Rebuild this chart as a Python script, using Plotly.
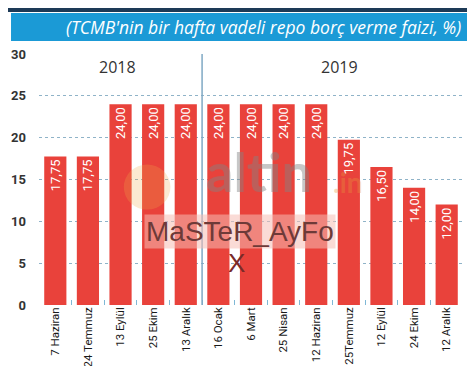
import plotly.graph_objects as go

categories = ["7 Haziran", "24 Temmuz", "13 Eylül", "25 Ekim", "13 Aralık",
              "16 Ocak", "6 Mart", "25 Nisan", "12 Haziran", "25Temmuz",
              "12 Eylül", "24 Ekim", "12 Aralık"]
rates = [17.75, 17.75, 24.00, 24.00, 24.00, 24.00, 24.00, 24.00, 24.00,
         19.75, 16.50, 14.00, 12.00]
years = ["2018", "2019"]
y_ticks = [0, 5, 10, 15, 20, 25, 30]
title_text = "(TCMB'nin bir hafta vadeli repo borç verme faizi, %)"

NARROW = "Roboto, Liberation Sans Narrow, sans-serif"

fig = go.Figure()
fig.add_trace(go.Bar(
    x=categories, y=rates,
    marker=dict(color="#e9423b", line=dict(width=0)),
    texttemplate="%{y:.2f}",
    textposition="inside",
    insidetextanchor="end",
    textangle=-90,
    textfont=dict(color="white", size=13, family=NARROW),
    hoverinfo="skip",
))

shapes = [
    dict(type="rect", xref="paper", yref="paper", x0=-0.075, x1=1.047, y0=1.167, y1=1.19,
         fillcolor="#1d3a57", line=dict(width=0), layer="above"),
    dict(type="rect", xref="paper", yref="paper", x0=-0.066, x1=1.024, y0=1.052, y1=1.163,
         fillcolor="#1b9ad6", line=dict(width=0), layer="above"),
    dict(type="rect", xref="paper", yref="paper", x0=-0.073, x1=1.031, y0=-0.262, y1=-0.254,
         fillcolor="#36b3d8", line=dict(width=0), layer="above"),
    dict(type="line", xref="x", yref="y", x0=4.5, x1=4.5, y0=0, y1=30,
         line=dict(color="#7fa9c4", width=1.5), layer="above"),
    dict(type="circle", xref="paper", yref="paper", x0=0.2, x1=0.31, y0=0.38, y1=0.56,
         fillcolor="rgba(240,170,70,0.25)", line=dict(width=0), layer="above"),
]

annotations = [
    dict(text="<i>" + title_text + "</i>", xref="paper", yref="paper", x=1.0, y=1.108,
         xanchor="right", yanchor="middle", showarrow=False,
         font=dict(color="white", size=17.5, family="Open Sans, Noto Sans, sans-serif")),
    dict(text=years[0], xref="x", yref="y", x=1.9, y=28.5, showarrow=False,
         font=dict(color="#333333", size=16, family="Open Sans, Noto Sans, sans-serif")),
    dict(text=years[1], xref="x", yref="y", x=8.7, y=28.5, showarrow=False,
         font=dict(color="#333333", size=16, family="Open Sans, Noto Sans, sans-serif")),
    dict(text="<b>altin</b>", xref="paper", yref="paper", x=0.52, y=0.53, showarrow=False,
         font=dict(color="rgba(130,130,130,0.45)", size=54, family="Lato, sans-serif")),
    dict(text="<b>.in</b>", xref="paper", yref="paper", x=0.77, y=0.49, showarrow=False,
         font=dict(color="rgba(230,150,60,0.35)", size=28, family="Lato, sans-serif")),
    dict(text="MaSTeR_AyFo", xref="paper", yref="paper", x=0.475, y=0.225, showarrow=False,
         bgcolor="rgba(245,190,180,0.55)", borderpad=1,
         font=dict(color="#6e3a38", size=28, family="Liberation Sans, Arial, sans-serif")),
    dict(text="X", xref="paper", yref="paper", x=0.465, y=0.1, showarrow=False,
         font=dict(color="#7a2a28", size=26, family="Liberation Sans, Arial, sans-serif")),
]

fig.update_layout(
    width=475, height=366,
    margin=dict(l=31, r=20, t=46, b=69),
    paper_bgcolor="white", plot_bgcolor="white",
    separators=",.",
    bargap=0.32,
    showlegend=False,
    shapes=shapes,
    annotations=annotations,
    xaxis=dict(
        type="category",
        range=[-0.5, 12.5],
        tickangle=-90,
        automargin=False,
        tickfont=dict(color="#1a1a1a", size=11.5, family=NARROW),
        ticks="inside", tickson="boundaries", ticklen=5, tickcolor="#7fb8d6", tickwidth=1,
        ticklabelstandoff=-1,
        showgrid=False, showline=False, zeroline=False,
    ),
    yaxis=dict(
        range=[0, 30],
        tickvals=y_ticks,
        automargin=False,
        tickfont=dict(color="#333333", size=13, family=NARROW, weight="bold"),
        showgrid=True, gridcolor="#8fb3c8", griddash="dot", gridwidth=1,
        zeroline=False, showline=False, ticks="", ticklabelstandoff=12,
    ),
)

fig.write_html("out.html")
